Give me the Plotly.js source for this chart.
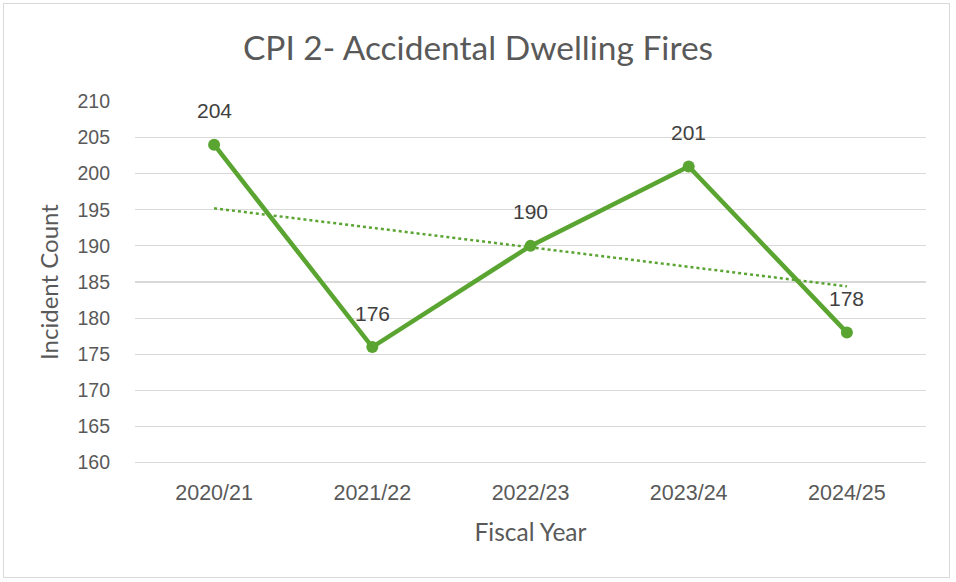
<!DOCTYPE html>
<html>
<head>
<meta charset="utf-8">
<script src="https://cdn.plot.ly/plotly-3.0.1.min.js"></script>
<style>
html,body{margin:0;padding:0;background:#fff;}
#wrap{position:relative;width:956px;height:582px;}
#chart{width:956px;height:582px;}
#frame{position:absolute;left:3px;top:3px;width:945px;height:573px;border:1.5px solid #d9d9d9;pointer-events:none;}
</style>
</head>
<body>
<div id="wrap"><div id="chart"></div><div id="frame"></div></div>
<script>
const categories = ["2020/21", "2021/22", "2022/23", "2023/24", "2024/25"];
const incidents = [204, 176, 190, 201, 178];
const trendX = ["2020/21", "2024/25"];
const trendY = [195.2, 184.4];
const yTicks = [160, 165, 170, 175, 180, 185, 190, 195, 200, 205, 210];

const green = "#5aa531";
const textGray = "#595959";
const labelFont = "Liberation Sans, Arial, sans-serif";
const titleFont = "Lato, Open Sans, sans-serif";

const traces = [
  {
    x: categories, y: incidents, type: "scatter", mode: "lines+markers",
    line: {color: green, width: 4.5}, marker: {color: green, size: 12},
    hoverinfo: "x+y", showlegend: false
  },
  {
    x: trendX, y: trendY, type: "scatter", mode: "lines",
    line: {color: green, width: 2.5, dash: "dot"}, showlegend: false, hoverinfo: "skip"
  }
];

const annotations = categories.map((c, i) => ({
  x: c, y: incidents[i], xref: "x", yref: "y", text: String(incidents[i]),
  showarrow: false, yshift: 34, font: {family: labelFont, size: 21, color: "#404040"}
}));

const layout = {
  width: 956, height: 582,
  margin: {l: 135, r: 30, t: 101, b: 119},
  paper_bgcolor: "#fff", plot_bgcolor: "#fff",
  title: {text: "CPI 2- Accidental Dwelling Fires", x: 0.5, xanchor: "center", y: 0.917, yanchor: "middle",
          font: {family: titleFont, size: 33.5, color: textGray}},
  xaxis: {
    type: "category", categoryorder: "array", categoryarray: categories, range: [-0.5, 4.5],
    showgrid: false, zeroline: false, showline: false, ticks: "",
    tickfont: {family: labelFont, size: 21.5, color: textGray}, ticklabelstandoff: 14,
    title: {text: "Fiscal Year", standoff: 20, font: {family: titleFont, size: 24.5, color: textGray}}
  },
  yaxis: {
    range: [159.95, 210.05], tickvals: yTicks, ticktext: yTicks.map(String),
    showgrid: true, gridcolor: "#d9d9d9", gridwidth: 1.2, zeroline: false, showline: false, ticks: "",
    tickfont: {family: labelFont, size: 19.5, color: textGray}, ticklabelstandoff: 24,
    title: {text: "Incident Count", standoff: 12, font: {family: titleFont, size: 24, color: textGray}}
  },
  shapes: [
    {type: "line", xref: "paper", x0: 0, x1: 1, yref: "y", y0: 160, y1: 160,
     line: {color: "#d9d9d9", width: 1.2}, layer: "below"}
  ],
  annotations: annotations
};

Plotly.newPlot("chart", traces, layout, {displayModeBar: false, staticPlot: true});
</script>
</body>
</html>
